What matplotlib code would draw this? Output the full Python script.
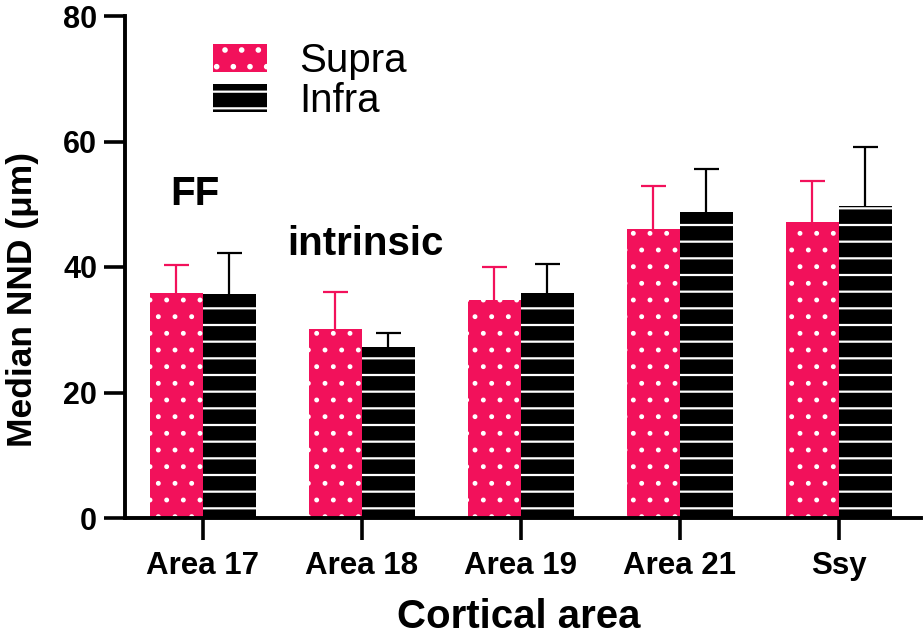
import numpy as np
import matplotlib
matplotlib.use("Agg")
import matplotlib.pyplot as plt

plt.rcParams['font.family'] = ['Liberation Sans', 'DejaVu Sans']

areas = ["Area 17", "Area 18", "Area 19", "Area 21", "Ssy"]
supra_mean = [35.9, 30.1, 34.7, 46.1, 47.2]
supra_err = [4.4, 5.9, 5.3, 6.8, 6.5]
infra_mean = [35.7, 27.3, 35.9, 48.8, 49.7]
infra_err = [6.5, 2.2, 4.6, 6.8, 9.4]

pink = "#F2115B"
bar_w = 0.333

fig = plt.figure(figsize=(9.24, 6.38), dpi=100)
ax = fig.add_axes([125 / 924, 1 - 518 / 638, 796 / 924, 502 / 638])

x = np.arange(len(areas))

# upper error bars only: hide the lower caps
for xs, m, e, c in [(x - bar_w / 2, supra_mean, supra_err, pink),
                    (x + bar_w / 2, infra_mean, infra_err, "black")]:
    eb = ax.errorbar(xs, m, yerr=[np.zeros(len(m)), e], fmt="none", ecolor=c,
                     elinewidth=1.6, capsize=9, capthick=1.6, zorder=1)
    eb.lines[1][0].set_visible(False)

plt.rcParams['hatch.linewidth'] = 1.1
b1 = ax.bar(x - bar_w / 2, supra_mean, bar_w, color=pink, edgecolor="white",
            linewidth=0, hatch=".", label="Supra", zorder=2)
plt.rcParams['hatch.linewidth'] = 1.6
b2 = ax.bar(x + bar_w / 2, infra_mean, bar_w, color="black", edgecolor="white",
            linewidth=0, hatch="-", label="Infra", zorder=2)

ax.set_xlim(-0.49, 4.516)
ax.set_ylim(0, 80)
ax.set_yticks([0, 20, 40, 60, 80])
ax.set_xticks(x)
ax.set_xticklabels(areas)

for s in ["top", "right"]:
    ax.spines[s].set_visible(False)
for s in ["left", "bottom"]:
    ax.spines[s].set_linewidth(2.8)

ax.tick_params(axis="y", length=15, width=2.6, labelsize=22, pad=5)
ax.tick_params(axis="x", length=16, width=2.6, labelsize=22.5, pad=8)
for lab in ax.get_xticklabels() + ax.get_yticklabels():
    lab.set_fontweight("bold")

fig.text(6 / 924, 1 - 299 / 638, "Median NND (\u03bcm)", fontsize=25.5, fontweight="bold",
         rotation=90, ha="left", va="center")
fig.text(519 / 924, 2 / 638, "Cortical area", fontsize=29, fontweight="bold",
         ha="center", va="bottom")

ax.text(-0.05, 49.9, "FF", fontsize=29, fontweight="bold", ha="center", va="baseline")
ax.text(1.025, 41.9, "intrinsic", fontsize=29, fontweight="bold", ha="center", va="baseline")

ax.legend(handles=[b1, b2], loc="upper left", bbox_to_anchor=(213 / 924, 1 - 42 / 638),
          bbox_transform=fig.transFigure, frameon=False, fontsize=29,
          handlelength=1.35, handleheight=0.72, handletextpad=0.78,
          labelspacing=0.05, borderpad=0, borderaxespad=0)

fig.savefig("out.png", dpi=100)
